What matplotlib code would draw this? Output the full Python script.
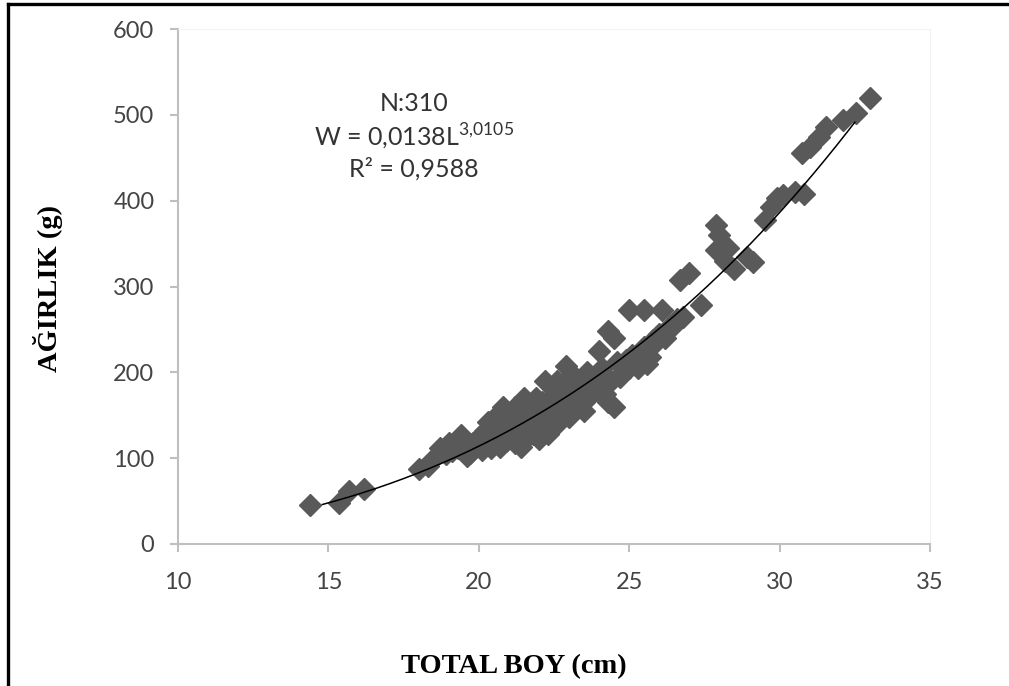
import matplotlib; matplotlib.use("Agg")
import numpy as np
import matplotlib.pyplot as plt
from matplotlib.lines import Line2D

plt.rcParams["font.family"] = ["Lato", "DejaVu Sans"]
plt.rcParams["mathtext.fontset"] = "custom"
plt.rcParams["mathtext.rm"] = "Lato"

# total length (cm) and weight (g)
boy = [14.4, 15.35, 15.7, 16.2, 18.0, 18.3, 18.4, 18.7, 18.9, 19.0, 19.3, 19.4, 19.7, 19.8,
       20.0, 20.0, 20.2, 20.3, 20.4, 20.5, 20.6, 20.7, 20.8, 20.9, 21.0, 21.0, 21.2, 21.3,
       21.4, 21.5, 21.5, 21.7, 21.8, 21.9, 22.0, 22.1, 22.2, 22.3, 22.4, 22.5, 22.6, 22.7,
       22.9, 22.9, 23.0, 23.1, 23.2, 23.4, 23.5, 23.6, 23.7, 23.8, 24.0, 24.0, 24.1, 24.3,
       24.3, 24.4, 24.5, 24.5, 24.6, 24.8, 24.9, 25.0, 25.1, 25.3, 25.5, 25.5, 25.7, 25.8,
       26.0, 26.1, 26.4, 26.6, 26.7, 27.0, 27.4, 27.9, 28.0, 27.9, 28.2, 28.3, 28.5, 28.9,
       29.1, 29.5, 29.7, 29.9, 30.1, 30.5, 30.8, 30.75, 31.0, 31.3, 31.55, 32.1, 32.55, 33.0,
       19.1, 19.5, 19.6, 20.1, 20.6, 20.9, 21.1, 21.6, 21.7, 22.0, 22.2, 22.5, 22.8, 22.8,
       23.0, 23.3, 23.3, 23.6, 23.9, 24.2, 24.2, 24.7, 25.0, 25.2, 25.4, 25.6, 25.9, 26.2,
       26.5, 26.8, 20.4, 21.2, 22.6, 21.9]
agirlik = [45, 48, 62, 64, 87, 91, 97, 112, 105, 118, 112, 127, 106, 118,
           115, 125, 132, 142, 112, 122, 150, 113, 160, 138, 125, 147, 118, 150,
           113, 170, 135, 155, 128, 145, 122, 165, 190, 128, 150, 175, 140, 160,
           207, 180, 148, 198, 165, 185, 155, 200, 172, 190, 225, 178, 205, 248,
           165, 190, 240, 160, 212, 200, 214, 273, 220, 205, 273, 230, 218, 238,
           245, 273, 255, 262, 307, 316, 278, 372, 360, 342, 330, 345, 320, 334,
           328, 378, 393, 403, 407, 410, 408, 455, 462, 474, 486, 494, 502, 520,
           108, 115, 102, 110, 130, 120, 135, 125, 140, 150, 135, 145, 150, 170,
           185, 160, 175, 170, 180, 190, 175, 195, 205, 215, 220, 210, 235, 240,
           255, 265, 140, 160, 190, 170]

# W = a * L^b
a, b = 0.0138, 3.0105
L_start, L_end = 14.8, 32.5

fig = plt.figure(figsize=(10.09, 6.86), dpi=100)
ax = fig.add_axes([178/1009, 1-544/686, 752/1009, 515/686])

ax.plot(boy, agirlik, ls="none", marker="D", ms=11.5, color="#595959", mec="#595959", zorder=2)
L = np.linspace(L_start, L_end, 200)
ax.plot(L, a * L**b, color="black", lw=1.1, zorder=3)

ax.set_xlim(10, 35); ax.set_ylim(0, 600)
ax.set_xticks(range(10, 36, 5)); ax.set_yticks(range(0, 601, 100))
for s in ["top", "right"]:
    ax.spines[s].set_color("#f2f2f2"); ax.spines[s].set_linewidth(0.8)
for s in ["left", "bottom"]:
    ax.spines[s].set_color("#bfbfbf"); ax.spines[s].set_linewidth(1.5)
ax.tick_params(axis="both", direction="out", length=6, width=1.5, color="#bfbfbf",
               labelsize=17, labelcolor="#444444")
ax.tick_params(axis="x", pad=14)
ax.tick_params(axis="y", pad=11)

tx = 0.314
ax.text(tx, 0.856, "N:310", transform=ax.transAxes, ha="center", va="center",
        fontsize=18, color="#333333")
ax.text(tx, 0.790, r"W = 0,0138L$^{\mathrm{3{,}0105}}$", transform=ax.transAxes,
        ha="center", va="center", fontsize=18, color="#333333")
ax.text(tx, 0.728, "R² = 0,9588", transform=ax.transAxes, ha="center", va="center",
        fontsize=18, color="#333333")

fig.text(514/1009, 1-667/686, "TOTAL BOY (cm)", ha="center", va="center",
         fontsize=20.5, fontweight="bold", family="Liberation Serif")
fig.text(48/1009, 1-289/686, "AĞIRLIK (g)", ha="center", va="center", rotation=90,
         fontsize=20.5, fontweight="bold", family="Liberation Serif")

# black frame around the picture (left and top edges visible)
x0, y0 = 8/1009, 1-4/686
fig.add_artist(Line2D([x0, x0], [0, y0], transform=fig.transFigure, color="black", lw=2.4))
fig.add_artist(Line2D([x0, 1], [y0, y0], transform=fig.transFigure, color="black", lw=2.4))

fig.savefig("out.png", dpi=100)
